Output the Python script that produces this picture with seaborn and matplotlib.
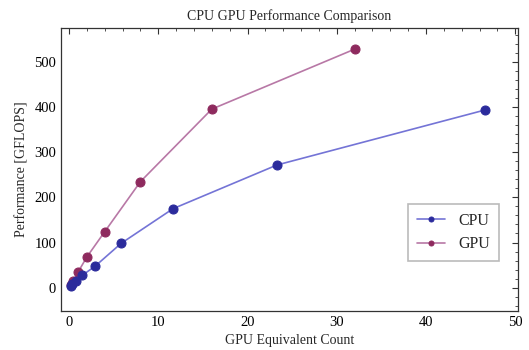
import seaborn as sns
import matplotlib
matplotlib.use("Agg")
import matplotlib.pyplot as plt
from matplotlib.ticker import MultipleLocator

cpu_x = [0.18, 0.36, 0.73, 1.46, 2.9, 5.83, 11.65, 23.3, 46.6]
cpu_y = [4, 8, 15, 27, 47, 98, 175, 272, 394]
gpu_x = [0.25, 0.5, 1, 2, 4, 8, 16, 32]
gpu_y = [6, 14, 34, 68, 124, 235, 396, 529]

sns.set_style("white")
plt.rcParams['font.family'] = ['Liberation Serif', 'DejaVu Serif']

fig = plt.figure(figsize=(5.29, 3.5), dpi=100)
ax = fig.add_axes([0.1153, 0.1114, 0.8637, 0.8086])

sns.lineplot(x=cpu_x, y=cpu_y, ax=ax, color="#7474d6", lw=1.2, marker="o", ms=6.5,
             mfc="#2b2b9c", mec="#2b2b9c", label="CPU", zorder=3)
sns.lineplot(x=gpu_x, y=gpu_y, ax=ax, color="#b878a6", lw=1.2, marker="o", ms=6.5,
             mfc="#8e2a5e", mec="#8e2a5e", label="GPU", zorder=2)

ax.set_xlim(-0.9, 50.3)
ax.set_ylim(-52, 576)
ax.xaxis.set_major_locator(MultipleLocator(10))
ax.xaxis.set_minor_locator(MultipleLocator(2))
ax.yaxis.set_major_locator(MultipleLocator(100))
ax.yaxis.set_minor_locator(MultipleLocator(20))
ax.tick_params(which="both", direction="in", top=True, right=True, labelsize=10.5, colors="#333333",
               labelcolor="black")
ax.tick_params(which="major", length=4, width=0.8)
ax.tick_params(which="minor", length=2, width=0.6)
for s in ax.spines.values():
    s.set_color("#333333")
    s.set_linewidth(0.9)

ax.set_title("CPU GPU Performance Comparison", fontsize=10, pad=6)
ax.set_xlabel("GPU Equivalent Count", fontsize=10, labelpad=4)
ax.set_ylabel("Performance [GFLOPS]", fontsize=10, labelpad=4)

leg = ax.legend(loc="lower right", bbox_to_anchor=(0.958, 0.177), borderaxespad=0,
                fontsize=11.5, markerscale=0.55, handlelength=1.8, fancybox=False,
                framealpha=1, edgecolor="#bbbbbb", borderpad=0.55, labelspacing=0.45)
leg.get_frame().set_linewidth(1.2)

fig.savefig("out.png", dpi=100)
